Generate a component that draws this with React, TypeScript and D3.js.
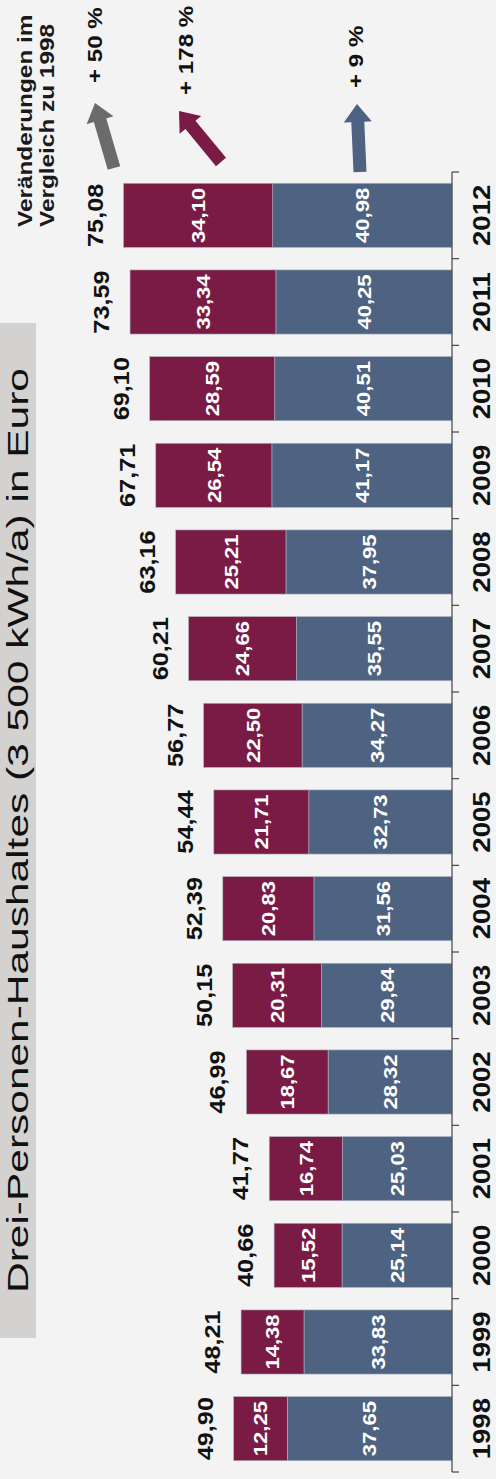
import React from 'react';
import * as d3 from 'd3';

// values (Euro per month, 3-person household)
const years = ['1998', '1999', '2000', '2001', '2002', '2003', '2004', '2005', '2006', '2007', '2008', '2009', '2010', '2011', '2012'];
const blueValues = [37.65, 33.83, 25.14, 25.03, 28.32, 29.84, 31.56, 32.73, 34.27, 35.55, 37.95, 41.17, 40.51, 40.25, 40.98];
const maroonValues = [12.25, 14.38, 15.52, 16.74, 18.67, 20.31, 20.83, 21.71, 22.5, 24.66, 25.21, 26.54, 28.59, 33.34, 34.1];
const totalValues = [49.9, 48.21, 40.66, 41.77, 46.99, 50.15, 52.39, 54.44, 56.77, 60.21, 63.16, 67.71, 69.1, 73.59, 75.08];

const title = 'Drei-Personen-Haushaltes (3 500 kWh/a) in Euro';
const noteLines = ['Veränderungen im', 'Vergleich zu 1998'];

const width = 496;
const height = 1479;
const font = '"Liberation Sans", Arial, Helvetica, sans-serif';

const BLUE = '#4e6281';
const MAROON = '#7a1b46';
const GRAY = '#6b6b6b';

const fmt = (v: number) => d3.format('.2f')(v).replace('.', ',');
const pct = (a: number, b: number) => `+ ${Math.round((a / b - 1) * 100)} %`;

// rotated text helper: text runs bottom -> top
const rot = (x: number, y: number, s = 1) => `translate(${x},${y}) rotate(-90) scale(${s},1)`;

const arrowPath = (tail: [number, number], tip: [number, number], shaftW = 13, headW = 28, headL = 18) => {
  const dx = tip[0] - tail[0];
  const dy = tip[1] - tail[1];
  const len = Math.hypot(dx, dy);
  const ux = dx / len, uy = dy / len;
  const px = -uy, py = ux;
  const bx = tip[0] - ux * headL, by = tip[1] - uy * headL;
  const pts = [
    [tail[0] + px * shaftW / 2, tail[1] + py * shaftW / 2],
    [bx + px * shaftW / 2, by + py * shaftW / 2],
    [bx + px * headW / 2, by + py * headW / 2],
    tip,
    [bx - px * headW / 2, by - py * headW / 2],
    [bx - px * shaftW / 2, by - py * shaftW / 2],
    [tail[0] - px * shaftW / 2, tail[1] - py * shaftW / 2],
  ];
  return 'M' + pts.map((p) => p.join(',')).join('L') + 'Z';
};

export default function App() {
  const baseX = 452;
  const top = 172;
  const bottom = 1472;

  const xScale = d3.scaleLinear().domain([0, 80]).range([baseX, baseX - 350]);
  const yScale = d3
    .scaleBand<string>()
    .domain([...years].reverse())
    .range([top, bottom])
    .paddingInner(0.26)
    .paddingOuter(0.13);

  const rows = years.map((y, i) => ({ year: y, blue: blueValues[i], maroon: maroonValues[i], total: totalValues[i] }));
  const stack = d3.stack<any>().keys(['blue', 'maroon'])(rows);
  const colors: Record<string, string> = { blue: BLUE, maroon: MAROON };

  const step = yScale.step();
  const tickYs = d3.range(years.length + 1).map((i) => top + i * step);
  const bw = yScale.bandwidth();

  const first = 0;
  const last = years.length - 1;
  const notes = [
    { text: pct(totalValues[last], totalValues[first]), x: 102, y: 83, tail: [114, 168], tip: [95, 103], color: GRAY },
    { text: pct(maroonValues[last], maroonValues[first]), x: 193, y: 95, tail: [221, 162], tip: [179, 111], color: MAROON },
    { text: pct(blueValues[last], blueValues[first]), x: 363, y: 88, tail: [360, 172], tip: [357, 104], color: BLUE },
  ];

  return (
    <svg width={width} height={height} style={{ position: 'absolute', left: 0, top: 0 }} fontFamily={font}>
      <rect x={0} y={0} width={width} height={height} fill="#f3f3f3" />

      {/* title box */}
      <rect x={0} y={323} width={36} height={1015} fill="#d3d2d1" />
      <text transform={rot(28, 1293)} fontSize={30} textLength={925} lengthAdjust="spacingAndGlyphs" fill="#111">
        {title}
      </text>

      {noteLines.map((t, i) => (
        <text key={t} transform={rot(32 + i * 22, 227, 1.16)} fontSize={21} fontWeight={700} fill="#1a1a1a">
          {t}
        </text>
      ))}

      {notes.map((n) => (
        <g key={n.text}>
          <path d={arrowPath(n.tail as [number, number], n.tip as [number, number])} fill={n.color} />
          <text transform={rot(n.x, n.y, 1.15)} fontSize={21} fontWeight={700} fill="#111">
            {n.text}
          </text>
        </g>
      ))}

      {/* stacked bars */}
      {stack.map((layer) => (
        <g key={layer.key}>
          {layer.map((d: any) => {
            const x0 = xScale(d[1]);
            const x1 = xScale(d[0]);
            const y = yScale(d.data.year)!;
            const v = d.data[layer.key];
            return (
              <g key={d.data.year}>
                <rect x={x0} y={y} width={x1 - x0} height={bw} fill={colors[layer.key]} stroke="#aeb4c0" strokeWidth={0.6} />
                <text
                  transform={rot((x0 + x1) / 2, y + bw / 2, 1.16)}
                  dy="0.36em"
                  textAnchor="middle"
                  fontSize={19}
                  fontWeight={700}
                  fill="#fff"
                >
                  {fmt(v)}
                </text>
              </g>
            );
          })}
        </g>
      ))}

      {/* totals */}
      {rows.map((r) => (
        <text
          key={r.year}
          transform={rot(xScale(r.total) - 21, yScale(r.year)! + bw / 2, 1.15)}
          textAnchor="middle"
          fontSize={22}
          fontWeight={700}
          fill="#111"
        >
          {fmt(r.total)}
        </text>
      ))}

      {/* axis */}
      <line x1={baseX} x2={baseX} y1={top} y2={bottom} stroke="#444" strokeWidth={1.2} />
      {tickYs.map((t) => (
        <line key={t} x1={baseX} x2={baseX + 7} y1={t} y2={t} stroke="#444" strokeWidth={1.2} />
      ))}
      {years.map((y) => (
        <text
          key={y}
          transform={rot(490, yScale(y)! + bw / 2, 1.2)}
          textAnchor="middle"
          fontSize={23}
          fontWeight={700}
          fill="#111"
        >
          {y}
        </text>
      ))}
    </svg>
  );
}
